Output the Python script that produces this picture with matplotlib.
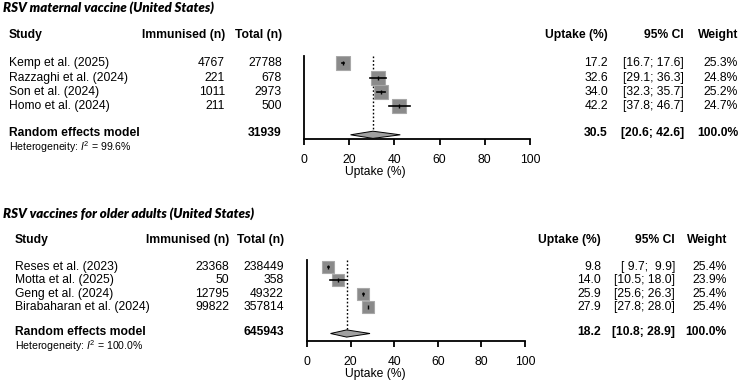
import matplotlib
matplotlib.use("Agg")
import matplotlib.pyplot as plt
from matplotlib.patches import Polygon
import numpy as np

plt.rcParams["font.family"] = ["Liberation Sans", "DejaVu Sans"]
plt.rcParams["mathtext.fontset"] = "custom"
plt.rcParams["mathtext.rm"] = "Liberation Sans"
plt.rcParams["mathtext.it"] = "Liberation Sans:italic"

# RSV maternal vaccine
mat_title = "RSV maternal vaccine (United States)"
mat_studies = ["Kemp et al. (2025)", "Razzaghi et al. (2024)", "Son et al. (2024)", "Homo et al. (2024)"]
mat_immunised = [4767, 221, 1011, 211]
mat_total = [27788, 678, 2973, 500]
mat_uptake = [17.2, 32.6, 34.0, 42.2]
mat_lower = [16.7, 29.1, 32.3, 37.8]
mat_upper = [17.6, 36.3, 35.7, 46.7]
mat_weight = [25.3, 24.8, 25.2, 24.7]
mat_re_total = 31939
mat_re = [30.5, 20.6, 42.6]
mat_i2 = "99.6%"

# RSV vaccines for older adults
old_title = "RSV vaccines for older adults (United States)"
old_studies = ["Reses et al. (2023)", "Motta et al. (2025)", "Geng et al. (2024)", "Birabaharan et al. (2024)"]
old_immunised = [23368, 50, 12795, 99822]
old_total = [238449, 358, 49322, 357814]
old_uptake = [9.8, 14.0, 25.9, 27.9]
old_lower = [9.7, 10.5, 25.6, 27.8]
old_upper = [9.9, 18.0, 26.3, 28.0]
old_weight = [25.4, 23.9, 25.4, 25.4]
old_re_total = 645943
old_re = [18.2, 10.8, 28.9]
old_i2 = "100.0%"

xticks = [0, 20, 40, 60, 80, 100]

W, H = 740, 381
fig = plt.figure(figsize=(W / 100, H / 100), dpi=100)
overlay = fig.add_axes([0, 0, 1, 1])
overlay.set_xlim(0, W)
overlay.set_ylim(H, 0)
overlay.axis("off")

FS = 8.7


def panel(title, studies, imm, tot, upt, lo, hi, wt, re_tot, re, i2,
          title_y, y0, dy, x0px, x1px, cols, msk, ybot):
    # cols: study x, immunised right, total right, uptake right, ci right, weight right
    sx, ix, tx, ux, cx, wx = cols
    ytop = 0.5
    top_px = y0 + dy * ytop
    bot_px = y0 + dy * ybot
    ax = fig.add_axes([x0px / W, 1 - bot_px / H, (x1px - x0px) / W, (bot_px - top_px) / H])
    ax.set_xlim(0, 100)
    ax.set_ylim(ybot, ytop)
    for s in ["top", "right"]:
        ax.spines[s].set_visible(False)
    ax.spines["left"].set_linewidth(1.3)
    ax.spines["bottom"].set_linewidth(1.3)
    ax.set_yticks([])
    ax.set_xticks(xticks)
    ax.tick_params(axis="x", length=4.5, width=1.3, pad=6, labelsize=FS)
    ax.set_xlabel("Uptake (%)", fontsize=FS, labelpad=0)
    ax.xaxis.label.set_position((0.315, 0))
    ax.patch.set_alpha(0)

    rows = np.arange(1, len(studies) + 1)
    yd = 6
    ax.plot([re[0], re[0]], [ytop, yd], color="black", linestyle=(0, (1.2, 1.5)), linewidth=1.0, zorder=1)
    for r, u, l, h, w in zip(rows, upt, lo, hi, wt):
        ax.plot(u, r, marker="s", markersize=msk * np.sqrt(w), color="#8a8a8a",
                markeredgecolor="#a8a8a8", markeredgewidth=0.8, zorder=2)
        ax.plot([l, h], [r, r], color="black", linewidth=1.2, zorder=3)
        ax.plot(u, r, marker="|", markersize=3, color="black", markeredgewidth=1.0, zorder=4)
    hh = 3.6 / dy
    ax.add_patch(Polygon([[re[1], yd], [re[0], yd - hh], [re[2], yd], [re[0], yd + hh]],
                         closed=True, facecolor="#a0a0a0", edgecolor="black", linewidth=0.7, zorder=3))

    def ypx(r):
        return y0 + dy * r

    overlay.text(3, title_y, title, fontsize=9.5, fontweight="heavy", fontstyle="italic",
                 family=["Lato", "DejaVu Sans"], va="center", ha="left")
    hy = ypx(-1)
    overlay.text(sx, hy, "Study", fontsize=FS, fontweight="bold", va="center")
    overlay.text(ix, hy, "Immunised (n)", fontsize=FS, fontweight="bold", va="center", ha="right")
    overlay.text(tx, hy, "Total (n)", fontsize=FS, fontweight="bold", va="center", ha="right")
    overlay.text(ux, hy, "Uptake (%)", fontsize=FS, fontweight="bold", va="center", ha="right")
    overlay.text(cx, hy, "95% CI", fontsize=FS, fontweight="bold", va="center", ha="right")
    overlay.text(wx, hy, "Weight", fontsize=FS, fontweight="bold", va="center", ha="right")
    for r, name, a, b, u, l, h, w in zip(rows, studies, imm, tot, upt, lo, hi, wt):
        y = ypx(r)
        overlay.text(sx, y, name, fontsize=FS, va="center")
        overlay.text(ix, y, f"{a}", fontsize=FS, va="center", ha="right")
        overlay.text(tx, y, f"{b}", fontsize=FS, va="center", ha="right")
        overlay.text(ux, y, f"{u:.1f}", fontsize=FS, va="center", ha="right")
        overlay.text(cx, y, f"[{l:4.1f}; {h:4.1f}]", fontsize=FS, va="center", ha="right")
        overlay.text(wx, y, f"{w:.1f}%", fontsize=FS, va="center", ha="right")
    y = ypx(6) - 1.5
    overlay.text(sx, y, "Random effects model", fontsize=FS, fontweight="bold", va="center")
    overlay.text(tx, y, f"{re_tot}", fontsize=FS, fontweight="bold", va="center", ha="right")
    overlay.text(ux, y, f"{re[0]:.1f}", fontsize=FS, fontweight="bold", va="center", ha="right")
    overlay.text(cx, y, f"[{re[1]:.1f}; {re[2]:.1f}]", fontsize=FS, fontweight="bold", va="center", ha="right")
    overlay.text(wx, y, "100.0%", fontsize=FS, fontweight="bold", va="center", ha="right")
    overlay.text(sx, y + 14, r"Heterogeneity: $I^2$ = " + i2, fontsize=7.6, va="center")


panel(mat_title, mat_studies, mat_immunised, mat_total, mat_uptake, mat_lower, mat_upper,
      mat_weight, mat_re_total, mat_re, mat_i2,
      title_y=8, y0=49.0, dy=14.3, x0px=304, x1px=530,
      cols=(9, 225, 282, 608, 684, 738), msk=2.1, ybot=6.3)
panel(old_title, old_studies, old_immunised, old_total, old_uptake, old_lower, old_upper,
      old_weight, old_re_total, old_re, old_i2,
      title_y=214, y0=253.7, dy=13.3, x0px=307, x1px=525,
      cols=(15, 229, 284, 601, 675, 727), msk=1.8, ybot=6.6)

fig.savefig("out.png", dpi=100)
